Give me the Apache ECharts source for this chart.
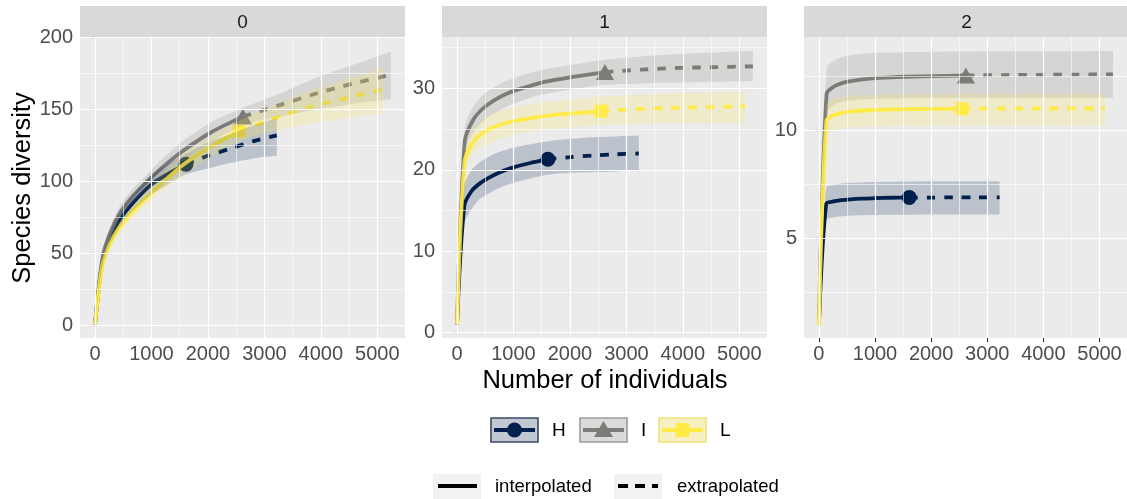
<!DOCTYPE html>
<html>
<head>
<meta charset="utf-8">
<script src="https://cdn.jsdelivr.net/npm/echarts@6/dist/echarts.min.js"></script>
<style>
  html, body { margin: 0; padding: 0; background: #fff; }
  #chart { width: 1127px; height: 499px; }
</style>
</head>
<body>
<div id="chart"></div>
<script>
// Sample-size based rarefaction / extrapolation curves, Hill orders q = 0, 1, 2

const orders = ['0', '1', '2'];
const xTicks = [0, 1000, 2000, 3000, 4000, 5000];
const xMinor = [500, 1500, 2500, 3500, 4500];
const yTicks = [[0, 50, 100, 150, 200], [0, 10, 20, 30], [5, 10]];
const yMinor = [[25, 75, 125, 175], [5, 15, 25, 35], [2.5, 7.5, 12.5]];
const yRange = [[-8.5, 200.2], [-0.65, 36.3], [0.4, 14.33]];
const xRange = [-265, 5490];

// Assemblage H
const m_H = [1, 130, 260, 400, 560, 760, 1000, 1280, 1610, 2010, 2410, 2810, 3220];
const obs_H = 1610;
const H_q0    = [1, 44, 60, 71, 80, 89, 98, 105, 112, 118, 123, 128, 132];
const H_q0_lo = [1, 41, 56, 66, 75, 83, 91, 98, 105, 109, 113, 116, 118];
const H_q0_hi = [1, 47, 64, 76, 85, 95, 105, 112, 119, 127, 133, 139, 144];
const H_q1    = [1, 15.6, 17.4, 18.3, 19.0, 19.7, 20.3, 20.8, 21.3, 21.55, 21.75, 21.9, 22.0];
const H_q1_lo = [1, 13.4, 15.2, 16.4, 17.1, 17.8, 18.4, 18.9, 19.4, 19.6, 19.7, 19.8, 19.9];
const H_q1_hi = [1, 18.0, 20.0, 20.9, 21.6, 22.2, 22.7, 23.1, 23.5, 23.8, 24.0, 24.1, 24.2];
const H_q2    = [1, 6.6, 6.72, 6.78, 6.82, 6.85, 6.87, 6.89, 6.9, 6.9, 6.91, 6.91, 6.91];
const H_q2_lo = [1, 5.85, 5.98, 6.03, 6.06, 6.08, 6.09, 6.1, 6.1, 6.11, 6.11, 6.11, 6.11];
const H_q2_hi = [1, 7.35, 7.48, 7.55, 7.58, 7.6, 7.62, 7.63, 7.64, 7.65, 7.65, 7.65, 7.65];

// Assemblage I
const m_I = [1, 138, 276, 440, 650, 900, 1200, 1550, 2050, 2620, 3270, 3920, 4580, 5240];
const obs_I = 2620;
const I_q0    = [1, 48, 65, 78, 89, 99, 110, 121, 134, 145, 153, 161, 168, 174];
const I_q0_lo = [1, 45, 61, 73, 84, 94, 104, 114, 127, 139, 145, 150, 154, 157];
const I_q0_hi = [1, 51, 69, 83, 94, 104, 116, 128, 141, 151, 161, 172, 181, 190];
const I_q1    = [1, 23.5, 26.0, 27.4, 28.5, 29.4, 30.1, 30.8, 31.4, 32.0, 32.3, 32.5, 32.6, 32.7];
const I_q1_lo = [1, 22.0, 24.4, 25.8, 26.9, 27.8, 28.6, 29.3, 29.9, 30.4, 30.6, 30.7, 30.8, 30.9];
const I_q1_hi = [1, 25.0, 27.6, 29.0, 30.1, 31.0, 31.7, 32.3, 32.9, 33.5, 33.9, 34.2, 34.4, 34.6];
const I_q2    = [1, 11.7, 12.05, 12.22, 12.32, 12.4, 12.45, 12.49, 12.52, 12.55, 12.57, 12.58, 12.59, 12.6];
const I_q2_lo = [1, 10.8, 11.2, 11.35, 11.42, 11.46, 11.48, 11.5, 11.5, 11.51, 11.51, 11.51, 11.51, 11.51];
const I_q2_hi = [1, 12.9, 13.25, 13.42, 13.52, 13.58, 13.61, 13.63, 13.65, 13.66, 13.67, 13.67, 13.67, 13.68];

// Assemblage L
const m_L = [1, 134, 268, 430, 640, 890, 1190, 1540, 2000, 2550, 3190, 3830, 4470, 5100];
const obs_L = 2550;
const L_q0    = [1, 42, 57, 68, 78, 88, 99, 111, 123, 135, 144, 152, 158, 164];
const L_q0_lo = [1, 39, 53, 64, 74, 83, 93, 104, 116, 128, 135, 140, 144, 147];
const L_q0_hi = [1, 45, 61, 72, 82, 93, 105, 118, 130, 142, 153, 163, 171, 179];
const L_q1    = [1, 21.0, 23.2, 24.4, 25.2, 25.8, 26.2, 26.6, 26.9, 27.2, 27.45, 27.6, 27.7, 27.8];
const L_q1_lo = [1, 19.6, 21.7, 22.8, 23.5, 24.1, 24.5, 24.9, 25.2, 25.5, 25.6, 25.7, 25.7, 25.7];
const L_q1_hi = [1, 22.4, 24.7, 26.0, 26.9, 27.5, 27.9, 28.3, 28.6, 29.0, 29.2, 29.4, 29.5, 29.6];
const L_q2    = [1, 10.45, 10.72, 10.83, 10.9, 10.94, 10.97, 10.99, 11.0, 11.01, 11.02, 11.02, 11.02, 11.02];
const L_q2_lo = [1, 9.7, 10.0, 10.1, 10.15, 10.18, 10.2, 10.21, 10.22, 10.22, 10.22, 10.22, 10.22, 10.22];
const L_q2_hi = [1, 11.2, 11.45, 11.56, 11.62, 11.65, 11.67, 11.68, 11.69, 11.7, 11.7, 11.7, 11.7, 11.7];

const FONT = '"Liberation Sans", Arial, Helvetica, sans-serif';

const groups = [
  { name: 'H', color: '#00204D', symbol: 'circle', size: 15, m: m_H, obs: obs_H,
    q: [[H_q0, H_q0_lo, H_q0_hi], [H_q1, H_q1_lo, H_q1_hi], [H_q2, H_q2_lo, H_q2_hi]] },
  { name: 'I', color: '#7C7B78', symbol: 'triangle', size: [18, 16], m: m_I, obs: obs_I,
    q: [[I_q0, I_q0_lo, I_q0_hi], [I_q1, I_q1_lo, I_q1_hi], [I_q2, I_q2_lo, I_q2_hi]] },
  { name: 'L', color: '#FFEA46', symbol: 'rect', size: 13, m: m_L, obs: obs_L,
    q: [[L_q0, L_q0_lo, L_q0_hi], [L_q1, L_q1_lo, L_q1_hi], [L_q2, L_q2_lo, L_q2_hi]] }
];

// Panel placement (pixels)
const panelLeft = [80, 442, 804];
const panelTop = 37, panelW = 325, panelH = 301, stripH = 31;

function pairs(m, v, keep) {
  const out = [];
  for (let i = 0; i < m.length; i++) if (keep(m[i])) out.push([m[i], v[i]]);
  return out;
}
const plain = v => String(v);

const grids = [], xAxes = [], yAxes = [], series = [];

orders.forEach((label, k) => {
  grids.push({ left: panelLeft[k], top: panelTop, width: panelW, height: panelH,
    show: true, backgroundColor: '#EBEBEB', borderWidth: 0 });
  xAxes.push({
    gridIndex: k, type: 'value', min: xRange[0], max: xRange[1],
    axisLine: { show: false },
    axisTick: { show: true, customValues: xTicks, length: 4, lineStyle: { color: '#333333', width: 1.1 } },
    axisLabel: { customValues: xTicks, formatter: plain, color: '#4D4D4D', fontSize: 20, margin: 6, fontFamily: FONT },
    splitLine: { show: false }
  });
  yAxes.push({
    gridIndex: k, type: 'value', min: yRange[k][0], max: yRange[k][1],
    axisLine: { show: false },
    axisTick: { show: true, customValues: yTicks[k], length: 4, lineStyle: { color: '#333333', width: 1.1 } },
    axisLabel: { customValues: yTicks[k], formatter: plain, color: '#4D4D4D', fontSize: 20, margin: 7, fontFamily: FONT },
    splitLine: { show: false }
  });

  // panel grid lines
  const gl = [];
  xMinor.forEach(v => gl.push({ xAxis: v, lineStyle: { width: 0.6 } }));
  yMinor[k].forEach(v => gl.push({ yAxis: v, lineStyle: { width: 0.6 } }));
  xTicks.forEach(v => gl.push({ xAxis: v, lineStyle: { width: 1.2 } }));
  yTicks[k].forEach(v => gl.push({ yAxis: v, lineStyle: { width: 1.2 } }));
  series.push({
    type: 'line', xAxisIndex: k, yAxisIndex: k, data: [], z: 1, silent: true,
    markLine: { silent: true, symbol: ['none', 'none'], label: { show: false },
      lineStyle: { color: '#FFFFFF', type: 'solid' }, animation: false, data: gl }
  });

  groups.forEach(g => {
    const [val, lo, hi] = g.q[k];
    const obsIdx = g.m.indexOf(g.obs);
    // observed point
    series.push({
      type: 'scatter', xAxisIndex: k, yAxisIndex: k, z: 2, silent: true,
      symbol: g.symbol, symbolSize: g.size,
      itemStyle: { color: g.color, opacity: 1 },
      data: [[g.m[obsIdx], val[obsIdx]]]
    });
    // interpolated (solid) and extrapolated (dashed)
    series.push({
      type: 'line', xAxisIndex: k, yAxisIndex: k, z: 3, silent: true,
      showSymbol: false, smooth: 0.3,
      lineStyle: { color: g.color, width: 3.8, cap: 'butt' },
      data: pairs(g.m, val, x => x <= g.obs)
    });
    series.push({
      type: 'line', xAxisIndex: k, yAxisIndex: k, z: 3, silent: true,
      showSymbol: false, smooth: 0.3,
      lineStyle: { color: g.color, width: 3.8, type: [8.5, 9], cap: 'butt' },
      data: pairs(g.m, val, x => x >= g.obs)
    });
  });

  // confidence ribbons on top, semi-transparent
  groups.forEach(g => {
    const [val, lo, hi] = g.q[k];
    series.push({
      type: 'custom', xAxisIndex: k, yAxisIndex: k, z: 4, silent: true,
      data: [[g.m[0], lo[0]]],
      renderItem: function (params, api) {
        const up = g.m.map((x, i) => api.coord([x, hi[i]]));
        const dn = g.m.map((x, i) => api.coord([x, lo[i]])).reverse();
        const pts = [up[0]].concat(up, [up[up.length - 1]], [dn[0]], dn, [dn[dn.length - 1]]);
        return {
          type: 'polygon',
          shape: { points: pts, smooth: 0.3 },
          style: { fill: g.color, opacity: 0.2 }
        };
      }
    });
  });
});

// strips, axis titles, legends
const graphics = [];
orders.forEach((label, k) => {
  graphics.push({ type: 'rect', shape: { x: panelLeft[k], y: panelTop - stripH, width: panelW, height: stripH },
    style: { fill: '#D9D9D9' }, silent: true });
  graphics.push({ type: 'text', x: panelLeft[k] + panelW / 2, y: panelTop - stripH / 2 + 1,
    style: { text: label, fill: '#1A1A1A', fontSize: 19, fontFamily: FONT, textAlign: 'center', textVerticalAlign: 'middle' } });
});
graphics.push({ type: 'text', x: 605, y: 381,
  style: { text: 'Number of individuals', fill: '#000', fontSize: 25.5, fontFamily: FONT, textAlign: 'center', textVerticalAlign: 'middle' } });
graphics.push({ type: 'text', x: 23, y: 188, rotation: Math.PI / 2,
  style: { text: 'Species diversity', fill: '#000', fontSize: 25.5, fontFamily: FONT, textAlign: 'center', textVerticalAlign: 'middle' } });

// legend: assemblages
const keyX = [491, 580, 659];
const keyFill = ['#C2C8D1', '#DADADA', '#F6EFC2'];
const keyStroke = ['#3A4A66', '#9C9C9C', '#F2E27A'];
groups.forEach((g, i) => {
  const x = keyX[i], y = 418, w = 47, h = 24, cy = y + h / 2, cx = x + w / 2;
  graphics.push({ type: 'rect', shape: { x: x, y: y, width: w, height: h },
    style: { fill: keyFill[i], stroke: keyStroke[i], lineWidth: 1.6 } });
  graphics.push({ type: 'line', shape: { x1: x + 3, y1: cy, x2: x + w - 3, y2: cy },
    style: { stroke: g.color, lineWidth: 4 } });
  if (g.symbol === 'circle') {
    graphics.push({ type: 'circle', shape: { cx: cx, cy: cy, r: 7.5 }, style: { fill: g.color } });
  } else if (g.symbol === 'triangle') {
    graphics.push({ type: 'polygon', shape: { points: [[cx, cy - 9], [cx + 9.5, cy + 7], [cx - 9.5, cy + 7]] }, style: { fill: g.color } });
  } else {
    graphics.push({ type: 'rect', shape: { x: cx - 7, y: cy - 7, width: 14, height: 14 }, style: { fill: g.color } });
  }
  graphics.push({ type: 'text', x: x + w + 14, y: cy + 1,
    style: { text: g.name, fill: '#000', fontSize: 19, fontFamily: FONT, textAlign: 'left', textVerticalAlign: 'middle' } });
});

// legend: method
graphics.push({ type: 'rect', shape: { x: 433, y: 474, width: 48, height: 25 }, style: { fill: '#F2F2F2' } });
graphics.push({ type: 'line', shape: { x1: 438, y1: 486, x2: 477, y2: 486 }, style: { stroke: '#000', lineWidth: 4 } });
graphics.push({ type: 'text', x: 495, y: 487,
  style: { text: 'interpolated', fill: '#000', fontSize: 18.5, fontFamily: FONT, textAlign: 'left', textVerticalAlign: 'middle' } });
graphics.push({ type: 'rect', shape: { x: 614, y: 474, width: 48, height: 25 }, style: { fill: '#F2F2F2' } });
graphics.push({ type: 'line', shape: { x1: 618, y1: 486, x2: 658, y2: 486 }, style: { stroke: '#000', lineWidth: 4, lineDash: [10, 7] } });
graphics.push({ type: 'text', x: 677, y: 487,
  style: { text: 'extrapolated', fill: '#000', fontSize: 18.5, fontFamily: FONT, textAlign: 'left', textVerticalAlign: 'middle' } });

const chart = echarts.init(document.getElementById('chart'), null, { renderer: 'canvas' });
chart.setOption({
  animation: false,
  backgroundColor: '#FFFFFF',
  textStyle: { fontFamily: FONT },
  grid: grids,
  xAxis: xAxes,
  yAxis: yAxes,
  series: series,
  graphic: { elements: graphics }
});
</script>
</body>
</html>
